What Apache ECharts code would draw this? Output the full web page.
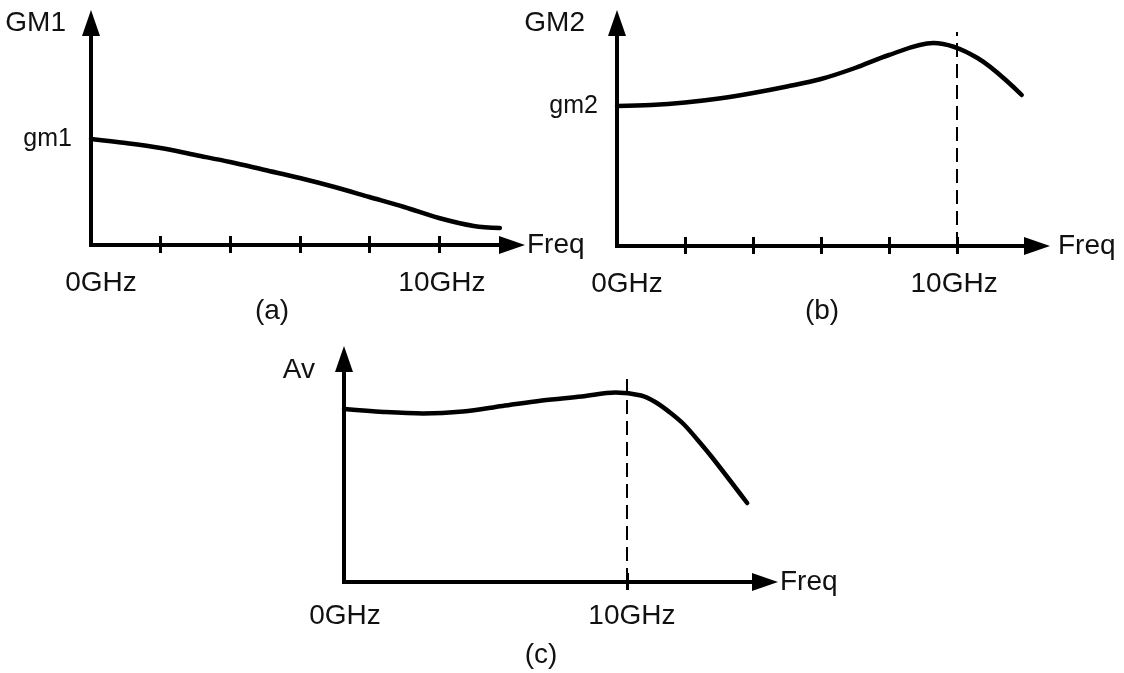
<!DOCTYPE html>
<html>
<head>
<meta charset="utf-8">
<title>GM1, GM2 and Av versus frequency</title>
<script src="https://cdn.jsdelivr.net/npm/echarts@6/dist/echarts.min.js"></script>
<style>
  html, body { margin: 0; padding: 0; background: #fff; }
  #chart { width: 1124px; height: 673px; }
</style>
</head>
<body>
<div id="chart"></div>
<script>
// Sketched response curves (arbitrary vertical units), frequency in GHz
const freqA = [0, 1, 2, 3, 4, 5, 6, 7, 8, 9, 10, 11, 11.75];
const gmA   = [106, 102, 97, 90, 83, 75, 67, 58, 48, 38, 27, 19, 17];

const freqB = [0, 1, 2, 3, 4, 5, 6, 7, 8, 9.3, 10.6, 11.9];
const gmB   = [140, 141, 143.5, 147.5, 153, 159.5, 167, 178, 191, 203, 188, 151];

const freqC = [0, 1.4, 2.8, 4.2, 5.6, 7, 8.4, 9.6, 10.5, 11, 11.5, 12, 12.5, 13, 14.25];
const avC   = [173, 170, 168.5, 170.5, 176, 181.5, 185.5, 189.5, 186.5, 180, 170, 158, 142, 125, 79];

// Axis ticks and labels
const ticksAB = [2, 4, 6, 8, 10];
const ticksC = [10];
const freqLabelValues = [0, 10];
const freqLabelTexts = ['0GHz', '10GHz'];
const yNames = ['GM1', 'GM2', 'Av'];
const yMarkValues = [106, 140];
const yMarkTexts = ['gm1', 'gm2'];
const captions = ['(a)', '(b)', '(c)'];

// Dashed markers at 10 GHz: [freq, height]
const markerB = [10, 214];
const markerC = [10, 205];

const INK = '#111';
const FONT = "'Liberation Sans', Arial, sans-serif";
const FS = 28;

const panels = [
  { grid: { left: 91, top: 23, width: 421, height: 222 }, xMax: 12.1, yMax: 222,
    freq: freqA, val: gmA, ticks: ticksAB, labelMargin: 24, labelShift: [10, 3],
    nameGap: 15, yNamePad: 25, yNameGap: 0, mark: null, yLabel: 0 },
  { grid: { left: 617, top: 23, width: 420, height: 223 }, xMax: 12.35, yMax: 223,
    freq: freqB, val: gmB, ticks: ticksAB, labelMargin: 24, labelShift: [10, -3],
    nameGap: 21, yNamePad: 32, yNameGap: 0, mark: markerB, yLabel: 1 },
  { grid: { left: 344, top: 359, width: 421, height: 223 }, xMax: 14.88, yMax: 223,
    freq: freqC, val: avC, ticks: ticksC, labelMargin: 20, labelShift: [1, 5],
    nameGap: 15, yNamePad: 29, yNameGap: -11, mark: markerC, yLabel: null }
];

function shiftStyle(s) {
  return s >= 0 ? { padding: [0, 0, 0, 2 * s] } : { padding: [0, -2 * s, 0, 0] };
}

const grids = [], xAxes = [], yAxes = [], series = [];

panels.forEach(function (p, i) {
  grids.push(p.grid);

  const rich = {
    s0: Object.assign({ fontSize: FS, color: INK, fontFamily: FONT }, shiftStyle(p.labelShift[0])),
    s1: Object.assign({ fontSize: FS, color: INK, fontFamily: FONT }, shiftStyle(p.labelShift[1]))
  };

  // main frequency axis: line, arrow, labels and lower half of ticks
  xAxes.push({
    type: 'value', gridIndex: i, position: 'bottom', min: 0, max: p.xMax,
    name: 'Freq', nameLocation: 'end', nameGap: p.nameGap,
    nameTextStyle: { fontSize: FS, color: INK, fontFamily: FONT, verticalAlign: 'middle', align: 'left' },
    axisLine: { show: true, symbol: ['none', 'triangle'], symbolSize: [18, 26],
      lineStyle: { color: '#000', width: 4, cap: 'square' } },
    axisTick: { show: true, inside: false, length: 8, customValues: p.ticks,
      lineStyle: { color: '#000', width: 3 } },
    axisLabel: { show: true, margin: p.labelMargin, customValues: freqLabelValues,
      formatter: function (v) {
        const k = freqLabelValues.indexOf(v);
        return '{s' + k + '|' + freqLabelTexts[k] + '}';
      },
      rich: rich },
    splitLine: { show: false }
  });
  // companion axis drawing the upper half of the ticks
  xAxes.push({
    type: 'value', gridIndex: i, position: 'bottom', min: 0, max: p.xMax,
    axisLine: { show: false },
    axisTick: { show: true, inside: true, length: 9, customValues: p.ticks,
      lineStyle: { color: '#000', width: 3 } },
    axisLabel: { show: false },
    splitLine: { show: false }
  });

  yAxes.push({
    type: 'value', gridIndex: i, position: 'left', min: 0, max: p.yMax,
    name: yNames[i], nameLocation: 'end', nameGap: p.yNameGap,
    nameTextStyle: { fontSize: FS, color: INK, fontFamily: FONT, align: 'right',
      verticalAlign: 'middle', padding: [0, p.yNamePad, 0, 0] },
    axisLine: { show: true, symbol: ['none', 'triangle'], symbolSize: [18, 26],
      lineStyle: { color: '#000', width: 4, cap: 'square' } },
    axisTick: { show: false },
    axisLabel: p.yLabel === null ? { show: false } : {
      show: true, margin: 19, customValues: [yMarkValues[p.yLabel]],
      formatter: function () { return yMarkTexts[p.yLabel]; },
      fontSize: 25, color: INK, fontFamily: FONT
    },
    splitLine: { show: false }
  });

  const s = {
    type: 'line', xAxisIndex: 2 * i, yAxisIndex: i,
    data: p.freq.map(function (f, k) { return [f, p.val[k]]; }),
    smooth: 0.35, showSymbol: false, silent: true,
    lineStyle: { color: '#000', width: 4.5, join: 'round', cap: 'round' }
  };
  if (p.mark) {
    s.markLine = {
      silent: true, symbol: 'none', label: { show: false },
      lineStyle: { color: '#000', width: 2, type: [14, 7] },
      data: [[{ coord: [p.mark[0], 0] }, { coord: [p.mark[0], p.mark[1]] }]]
    };
  }
  series.push(s);
});

const captionPos = [[272, 311], [822, 311], [541, 655]];

const chart = echarts.init(document.getElementById('chart'), null, { renderer: 'canvas' });
chart.setOption({
  animation: false,
  backgroundColor: '#fff',
  textStyle: { fontFamily: FONT },
  grid: grids,
  xAxis: xAxes,
  yAxis: yAxes,
  series: series,
  graphic: captions.map(function (t, i) {
    return {
      type: 'text', x: captionPos[i][0], y: captionPos[i][1],
      style: { text: t, fill: INK, font: FS + 'px ' + FONT, align: 'center', verticalAlign: 'middle' }
    };
  })
});
</script>
</body>
</html>
